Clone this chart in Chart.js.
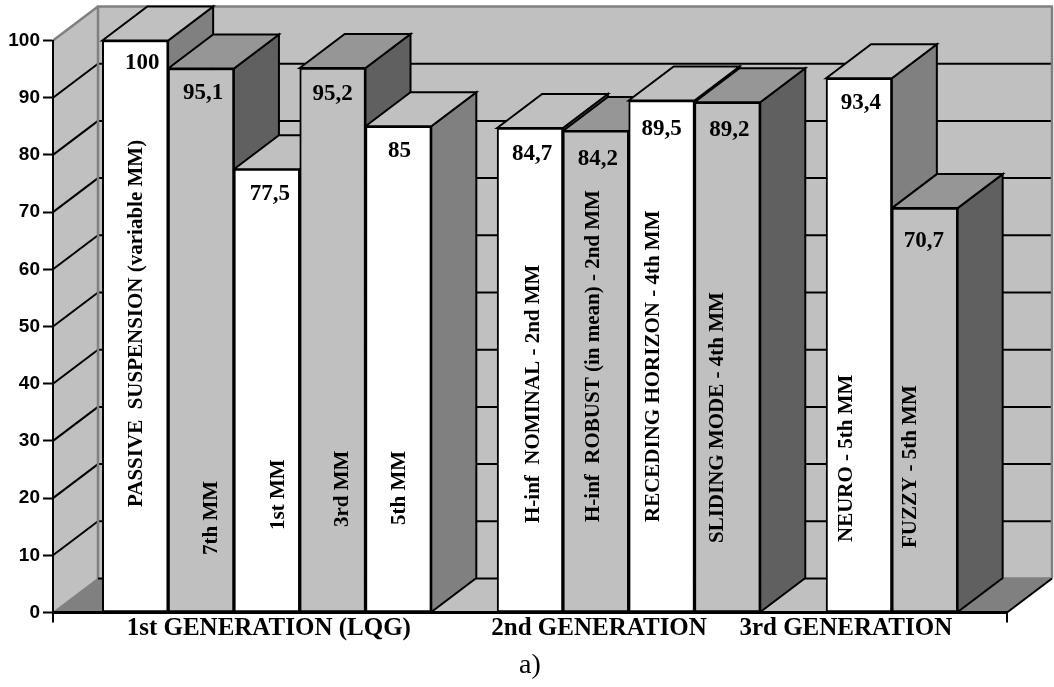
<!DOCTYPE html>
<html>
<head>
<meta charset="utf-8">
<style>html,body{margin:0;padding:0;background:#fff}canvas{display:block}</style>
<script src="https://cdn.jsdelivr.net/npm/chart.js@4/dist/chart.umd.js"></script>
</head>
<body>
<canvas id="c" width="1054" height="687"></canvas>
<script>
const barNames = ['PASSIVE  SUSPENSION (variable MM)','7th MM','1st MM','3rd MM','5th MM',
  'H-inf  NOMINAL - 2nd MM','H-inf  ROBUST (in mean) - 2nd MM','RECEDING HORIZON - 4th MM','SLIDING MODE - 4th MM',
  'NEURO - 5th MM','FUZZY - 5th MM'];
const barValues = [100,95.1,77.5,95.2,85,84.7,84.2,89.5,89.2,93.4,70.7];
const barSlots = [0,1,2,3,4,6,7,8,9,11,12];
const barShades = ['w','g','w','g','w','w','g','w','g','w','g'];
const groupNames = ['1st GENERATION (LQG)','2nd GENERATION','3rd GENERATION'];
const groupCentres = [2.03,7.05,10.8];
const yTicks = [0,10,20,30,40,50,60,70,80,90,100];
const caption = 'a)';

const DX = 45, DY = -34;
const FRONT = {w:'#FFFFFF', g:'#C0C0C0'};
const TOP = {w:'#C0C0C0', g:'#969696'};
const SIDE = {w:'#808080', g:'#606060'};
const WALL = '#C0C0C0', EDGE = '#808080', FLOOR_END = '#808080';
const SERIF = '"Liberation Serif","Times New Roman",serif';
// label nudges relative to each bar: value text [dx, dy from top], vertical text [dx from centre, bottom pixel]
const valueNudge = [[7,23],[2,25],[3,25],[0,26],[1,25],[2,26],[2,28],[0,29],[2,28],[2,25],[-1,33]];
const nameNudge = [[1,507],[11,555],[12,530],[10,527],[1,525],[4,523],[-2,522],[-8,522],[-10,543],[-12,542],[-14,548]];

function poly(ctx, pts, fill, stroke, lw){
  ctx.beginPath();
  pts.forEach((p,i)=> i ? ctx.lineTo(p[0],p[1]) : ctx.moveTo(p[0],p[1]));
  ctx.closePath();
  if(fill){ctx.fillStyle=fill;ctx.fill();}
  if(stroke){ctx.strokeStyle=stroke;ctx.lineWidth=lw;ctx.lineJoin='miter';ctx.stroke();}
}
function seg(ctx,x1,y1,x2,y2,col,lw){
  ctx.beginPath();ctx.moveTo(x1,y1);ctx.lineTo(x2,y2);ctx.strokeStyle=col;ctx.lineWidth=lw;ctx.stroke();
}

const box3d = {
  id:'box3d',
  beforeDraw(chart){
    const {ctx,scales:{x,y}} = chart;
    const L=x.left,R=x.right,B=y.getPixelForValue(0),T=y.getPixelForValue(100);
    ctx.save();
    poly(ctx,[[L,T],[L+DX,T+DY],[L+DX,B+DY],[L,B]],WALL);
    poly(ctx,[[L+DX,T+DY],[R+DX,T+DY],[R+DX,B+DY],[L+DX,B+DY]],WALL);
    poly(ctx,[[L,B],[L+DX,B+DY],[R+DX,B+DY],[R,B]],WALL);
    const firstBar = x.getPixelForValue(-0.5), lastBar = x.getPixelForValue(12.5);
    poly(ctx,[[L,B],[L+DX,B+DY],[firstBar+DX,B+DY],[firstBar,B]],FLOOR_END);
    poly(ctx,[[lastBar,B],[lastBar+DX,B+DY],[R+DX,B+DY],[R,B]],FLOOR_END);
    yTicks.forEach(v=>{
      if(v===0||v===100) return;
      const py=y.getPixelForValue(v);
      ctx.lineCap='butt';
      seg(ctx,L,py,L+DX,py+DY,'#000',2);
      seg(ctx,L+DX,py+DY,R+DX-1,py+DY,'#000',2);
    });
    seg(ctx,L,T,L+DX,T+DY,EDGE,2.5);
    seg(ctx,L+DX-1,T+DY,R+DX+1,T+DY,EDGE,2.5);
    seg(ctx,R+DX,T+DY,R+DX,B+DY,EDGE,2.5);
    seg(ctx,L+DX,T+DY,L+DX,B+DY,EDGE,2.5);
    seg(ctx,L,B,L+DX,B+DY,EDGE,1.5);
    seg(ctx,L+DX,B+DY,lastBar+DX,B+DY,'#000',2);
    seg(ctx,lastBar+DX,B+DY,R+DX,B+DY,EDGE,2.5);
    seg(ctx,R,B,R+DX,B+DY,'#000',2);
    ctx.restore();
  },
  beforeDatasetsDraw(chart){
    const {ctx} = chart;
    const bars = chart.getDatasetMeta(0).data;
    ctx.save();
    bars.forEach((b,i)=>{
      const s=barShades[i], l=b.x-b.width/2, r=b.x+b.width/2, t=b.y, o=b.base;
      poly(ctx,[[r,t],[r+DX,t+DY],[r+DX,o+DY],[r,o]],SIDE[s],'#000',2);
      poly(ctx,[[l,t],[l+DX,t+DY],[r+DX,t+DY],[r,t]],TOP[s],'#000',2);
    });
    ctx.restore();
  },
  afterDatasetsDraw(chart){
    const {ctx,scales:{x,y}} = chart;
    const bars = chart.getDatasetMeta(0).data;
    ctx.save();
    ctx.fillStyle='#000';
    bars.forEach((b,i)=>{
      ctx.font='bold 23px '+SERIF;
      ctx.textAlign='center';ctx.textBaseline='middle';
      ctx.fillText(String(barValues[i]).replace('.',','),b.x+valueNudge[i][0],b.y+valueNudge[i][1]);
      ctx.save();
      ctx.translate(b.x+nameNudge[i][0],nameNudge[i][1]);
      ctx.rotate(-Math.PI/2);
      ctx.font='bold 21px '+SERIF;
      ctx.textAlign='left';
      ctx.fillText(barNames[i],0,0);
      ctx.restore();
    });
    const B=y.getPixelForValue(0);
    seg(ctx,x.left,B,x.left,B+10,'#000',2);
    seg(ctx,x.right,B,x.right,B+10,'#000',2);
    ctx.restore();
  }
};

new Chart(document.getElementById('c'),{
  type:'bar',
  data:{
    datasets:[{
      data:barSlots.map((s,i)=>({x:s,y:barValues[i]})),
      backgroundColor:barShades.map(s=>FRONT[s]),
      borderColor:'#000',
      borderWidth:2,
      borderSkipped:false,
      barPercentage:1,
      categoryPercentage:1
    }]
  },
  plugins:[box3d],
  options:{
    responsive:false,
    animation:false,
    events:[],
    layout:{padding:{top:40.5,right:47,left:0,bottom:0}},
    plugins:{legend:{display:false},tooltip:{enabled:false},title:{display:false}},
    scales:{
      x:{
        type:'linear',min:-1.25,max:13.25,offset:false,
        afterFit(s){s.height=74.5;},
        afterBuildTicks(s){s.ticks=groupCentres.map(v=>({value:v}));},
        afterTickToLabelConversion(s){s.ticks.forEach((t,i)=>{t.label=groupNames[i];});},
        border:{display:true,color:'#000',width:3,z:1},
        grid:{display:false,drawTicks:false},
        ticks:{autoSkip:false,maxRotation:0,minRotation:0,padding:1,color:'#000',
          font:{family:SERIF,weight:'bold',size:25}},
        title:{display:true,text:caption,color:'#000',font:{family:SERIF,size:28},padding:{top:0,bottom:5}}
      },
      y:{
        min:0,max:100,
        afterFit(s){s.width=53;},
        afterBuildTicks(s){s.ticks=yTicks.map(v=>({value:v}));},
        border:{display:true,color:'#000',width:2},
        grid:{drawOnChartArea:false,drawTicks:true,tickLength:10,tickColor:'#000',tickWidth:2},
        ticks:{padding:3,color:'#000',font:{family:'"Liberation Sans",Arial,sans-serif',weight:'bold',size:19}}
      }
    }
  }
});
</script>
</body>
</html>
